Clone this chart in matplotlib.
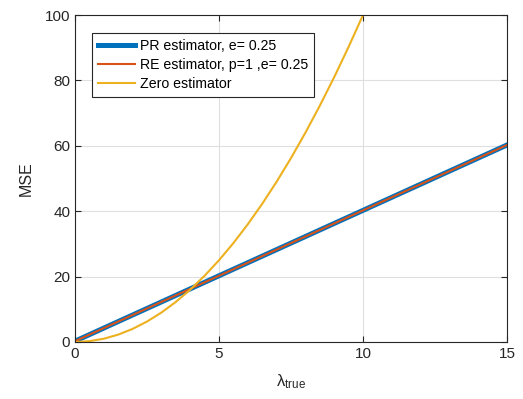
import matplotlib.pyplot as plt
import numpy as np

plt.rcParams['font.family'] = ['Liberation Sans', 'DejaVu Sans']
plt.rcParams['mathtext.fontset'] = 'custom'
plt.rcParams['mathtext.rm'] = 'Liberation Sans'
plt.rcParams['mathtext.it'] = 'Liberation Sans:italic'

# MSE
lam = [0, 1, 2, 3, 4, 5, 6, 7, 8, 9, 10, 11, 12, 13, 14, 15]
mse_pr = [0.25, 4.25, 8.25, 12.25, 16.25, 20.25, 24.25, 28.25, 32.25, 36.25, 40.25, 44.25, 48.25,
          52.25, 56.25, 60.25]
mse_re = [0.25, 4.25, 8.25, 12.25, 16.25, 20.25, 24.25, 28.25, 32.25, 36.25, 40.25, 44.25, 48.25,
          52.25, 56.25, 60.25]
lam_zero = [0, 0.5, 1, 1.5, 2, 2.5, 3, 3.5, 4, 4.5, 5, 5.5, 6, 6.5, 7, 7.5, 8, 8.5, 9, 9.5, 10]
mse_zero = [0, 0.25, 1, 2.25, 4, 6.25, 9, 12.25, 16, 20.25, 25, 30.25, 36, 42.25, 49,
            56.25, 64, 72.25, 81, 90.25, 100]

fig = plt.figure(figsize=(5.23, 3.99), dpi=100)
ax = fig.add_axes([0.1434, 0.1429, 0.826, 0.8195])

ax.plot(lam, mse_pr, color='#0072BD', lw=3.6, label='PR estimator, e= 0.25', snap=False)
ax.plot(lam, mse_re, color='#D95319', lw=1.5, label='RE estimator, p=1 ,e= 0.25', snap=False)
ax.plot(lam_zero, mse_zero, color='#EDB120', lw=1.5, label='Zero estimator', snap=False)

ax.set_xlim(0, 15)
ax.set_ylim(0, 100)
ax.set_xticks([0, 5, 10, 15])
ax.set_yticks([0, 20, 40, 60, 80, 100])
ax.grid(True, color='#dfdfdf', lw=0.8)
ax.tick_params(direction='in', top=True, right=True, labelsize=11, colors='#262626', length=4)
for s in ax.spines.values():
    s.set_color('#262626')
    s.set_linewidth(0.8)

ax.set_xlabel(r'λ$_{\mathrm{true}}$', fontsize=12, color='#262626', labelpad=8)
ax.set_ylabel('MSE', fontsize=11.5, color='#262626', labelpad=8)

leg = ax.legend(loc='upper left', bbox_to_anchor=(0.04, 0.945), fontsize=10.2, fancybox=False,
                edgecolor='#262626', framealpha=1, handlelength=2.6, borderpad=0.4,
                labelspacing=0.38, handletextpad=0.35, borderaxespad=0)
leg.get_frame().set_linewidth(0.8)

fig.savefig('out.png', dpi=100)
